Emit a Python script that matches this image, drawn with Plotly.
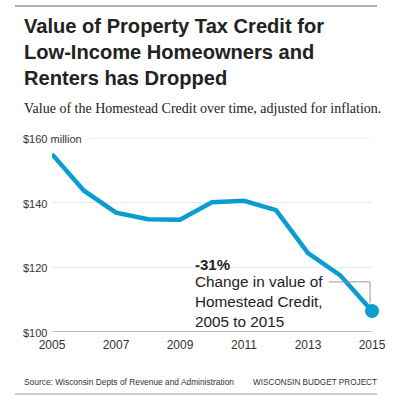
import plotly.graph_objects as go

years = [2005, 2006, 2007, 2008, 2009, 2010, 2011, 2012, 2013, 2014, 2015]
values = [155.0, 143.7, 136.9, 134.9, 134.7, 140.1, 140.6, 137.7, 124.4, 117.6, 106.5]
y_ticks = [100, 120, 140, 160]
y_tick_labels = ["$100", "$120", "$140", "$160 million"]
x_ticks = [2005, 2007, 2009, 2011, 2013, 2015]

BLUE = "#0b9cd1"
SANS = "Liberation Sans, Arial, sans-serif"
TXT = "#222222"

W, H = 399, 400
pl, pr, pt, pb = 52, 27, 138, 68
pw, ph = W - pl - pr, H - pt - pb


def px(xp):
    return (xp - pl) / pw


def py(yp):
    return (H - pb - yp) / ph


fig = go.Figure()
fig.add_trace(go.Scatter(
    x=years, y=values, mode="lines",
    line=dict(color=BLUE, width=4.5), cliponaxis=False, hoverinfo="skip"))
fig.add_trace(go.Scatter(
    x=[years[-1]], y=[values[-1]], mode="markers",
    marker=dict(color=BLUE, size=14), cliponaxis=False, hoverinfo="skip"))

shapes = []
for t in y_ticks:
    x0 = years[0] if t != 160 else years[0] + 1.1
    shapes.append(dict(type="line", xref="x", yref="y", x0=x0, x1=years[-1],
                       y0=t, y1=t, layer="below",
                       line=dict(color="#a9a9a9" if t == 100 else "#e8e8e8",
                                 width=1.5 if t == 100 else 1)))
lx = years[-1] - 0.06
shapes.append(dict(type="path", xref="x", yref="y",
                   path=f"M {years[-1]-1.35},115.5 L {lx},115.5 L {lx},{values[-1]+2.3}",
                   line=dict(color="#999999", width=1)))
shapes.append(dict(type="line", xref="paper", yref="paper", x0=px(15), x1=px(377),
                   y0=py(6), y1=py(6), line=dict(color="#9a9a9a", width=1.5)))
shapes.append(dict(type="line", xref="paper", yref="paper", x0=px(15), x1=px(377),
                   y0=py(394), y1=py(394), line=dict(color="#bdbdbd", width=1.5)))

annotations = []
for t, lab in zip(y_ticks, y_tick_labels):
    annotations.append(dict(x=px(21), xref="paper", y=t, yref="y", yshift=-1,
                            text=lab, showarrow=False, xanchor="left", yanchor="middle",
                            font=dict(family=SANS, size=11, color="#333333")))

annotations.append(dict(x=2009.5, xshift=-3, yshift=2, y=values[-1] + 13.9, xref="x", yref="y",
                        text="<b>-31%</b>", showarrow=False, xanchor="left", yanchor="middle",
                        font=dict(family=SANS, size=15, color=TXT)))
annotations.append(dict(x=2009.5, xshift=-3, y=values[-1] + 2.8, xref="x", yref="y",
                        text="Change in value of<br>Homestead Credit,<br>2005 to 2015",
                        showarrow=False, xanchor="left", yanchor="middle", align="left",
                        font=dict(family=SANS, size=15.3, color=TXT)))

annotations.append(dict(x=px(22), y=py(13), xref="paper", yref="paper", xanchor="left", yanchor="top",
                        text="<b>Value of Property Tax Credit for<br>Low-Income Homeowners and<br>Renters has Dropped</b>",
                        showarrow=False, align="left",
                        font=dict(family=SANS, size=20.1, color=TXT)))
annotations.append(dict(x=px(22), y=py(108), xref="paper", yref="paper", xanchor="left", yanchor="middle",
                        text="Value of the Homestead Credit over time, adjusted for inflation.",
                        showarrow=False,
                        font=dict(family="Liberation Serif, Times New Roman, serif", size=14, color=TXT)))
annotations.append(dict(x=px(22), y=py(382), xref="paper", yref="paper", xanchor="left", yanchor="middle",
                        text="Source: Wisconsin Depts of Revenue and Administration",
                        showarrow=False, font=dict(family=SANS, size=8.4, color="#333333")))
annotations.append(dict(x=px(379), y=py(382), xref="paper", yref="paper", xanchor="right", yanchor="middle",
                        text="WISCONSIN BUDGET PROJECT",
                        showarrow=False, font=dict(family=SANS, size=8.2, color="#333333")))

fig.update_layout(
    width=W, height=H,
    margin=dict(l=pl, r=pr, t=pt, b=pb),
    paper_bgcolor="white", plot_bgcolor="white",
    showlegend=False,
    xaxis=dict(range=[2005, 2015], tickvals=x_ticks, ticktext=[str(v) for v in x_ticks],
               showgrid=False, zeroline=False, showline=False, ticks="",
               ticklabelstandoff=4,
               tickfont=dict(family=SANS, size=12, color="#333333"), fixedrange=True),
    yaxis=dict(range=[100, 160], showgrid=False, zeroline=False, showticklabels=False,
               showline=False, fixedrange=True),
    shapes=shapes,
    annotations=annotations,
)

fig.write_html("out.html", config={"displayModeBar": False},
               post_script="document.body.style.margin='0';document.body.style.padding='0';")
